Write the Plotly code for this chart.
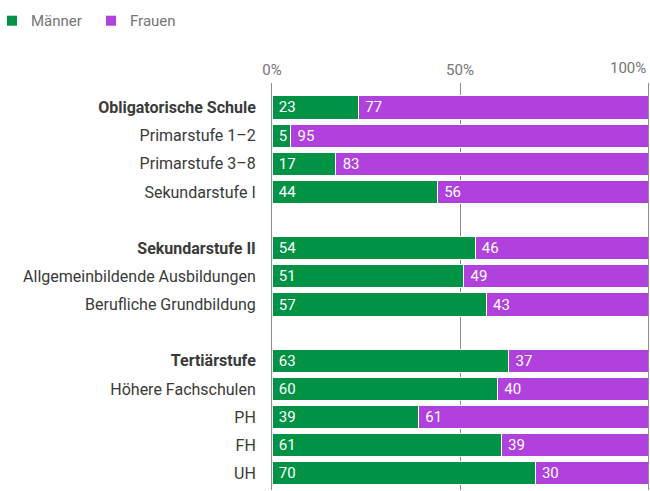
import plotly.graph_objects as go

# rows of the chart, "" = empty spacer row between the groups
categories = [
    "Obligatorische Schule", "Primarstufe 1–2", "Primarstufe 3–8", "Sekundarstufe I", "",
    "Sekundarstufe II", "Allgemeinbildende Ausbildungen", "Berufliche Grundbildung", "",
    "Tertiärstufe", "Höhere Fachschulen", "PH", "FH", "UH",
]
group_headers = ["Obligatorische Schule", "Sekundarstufe II", "Tertiärstufe"]

maenner = [23, 5, 17, 44, None, 54, 51, 57, None, 63, 60, 39, 61, 70]
frauen = [77, 95, 83, 56, None, 46, 49, 43, None, 37, 40, 61, 39, 30]

x_ticks = [0, 50, 100]
x_ticktext = ["0%", "50%", "100%"]

GREEN = "#009245"
PURPLE = "#b041dd"
GRID = "#8c8c8c"
FONT = "Roboto, Arial, sans-serif"

W, H = 650, 491
ML, MR, MT, MB = 272, 2, 83, 1
PW, PH = W - ML - MR, H - MT - MB


def px_x(px):
    # figure pixel -> paper x
    return (px - ML) / PW


def px_y(py):
    # figure pixel (from top) -> paper y
    return (H - MB - py) / PH


rows = list(range(len(categories)))
ticktext = [f"<b>{c}</b>" if c in group_headers else c for c in categories]

series = [("Männer", maenner, GREEN), ("Frauen", frauen, PURPLE)]

fig = go.Figure()
for name, vals, color in series:
    fig.add_trace(go.Bar(
        y=rows, x=vals, name=name, orientation="h",
        marker=dict(color=color, line=dict(color="white", width=1)),
        text=[f" {v}" if v is not None else "" for v in vals],
        textposition="inside", insidetextanchor="start",
        textfont=dict(color="white", size=15, family=FONT),
        constraintext="none",
        hoverinfo="skip", showlegend=False,
    ))

fig.update_layout(
    width=W, height=H,
    barmode="stack", bargap=0.18,
    margin=dict(l=ML, r=MR, t=MT, b=MB),
    paper_bgcolor="white", plot_bgcolor="white",
    font=dict(family=FONT, size=15, color="#3a3a3a"),
    uniformtext=dict(minsize=8, mode="show"),
)

fig.update_xaxes(
    side="top", range=[0, 100], tickvals=x_ticks, ticktext=x_ticktext[:2] + [""],
    showgrid=True, gridcolor=GRID, gridwidth=1, zeroline=False,
    showline=False, ticks="", tickfont=dict(size=15, color="#757575"),
    ticklabelstandoff=4, fixedrange=True, automargin=False,
)
fig.update_yaxes(
    range=[13.59, -0.87], tickvals=rows, ticktext=ticktext,
    showgrid=False, zeroline=False, ticks="",
    showline=True, linecolor=GRID, linewidth=1, mirror=True,
    tickfont=dict(size=16, color="#3a3a3a"), ticklabelstandoff=12,
    fixedrange=True, automargin=False,
)

# last tick label sits flush with the right edge
fig.add_annotation(
    x=x_ticks[-1], y=1, xref="x", yref="paper", text=x_ticktext[-1],
    showarrow=False, xanchor="right", yanchor="bottom", yshift=4,
    font=dict(size=15, color="#757575"),
)

# legend at the very top left (square swatch + label)
legend_left = [7, 106]
for (name, _, color), lx in zip(series, legend_left):
    fig.add_shape(
        type="rect", xref="paper", yref="paper",
        x0=px_x(lx), x1=px_x(lx + 10), y0=px_y(25.7), y1=px_y(15.7),
        fillcolor=color, line=dict(width=0),
    )
    fig.add_annotation(
        x=px_x(lx + 22), y=px_y(21), xref="paper", yref="paper", text=name,
        showarrow=False, xanchor="left", yanchor="middle",
        font=dict(size=15, color="#757575"),
    )

fig.write_html(
    "out.html",
    config={"displayModeBar": False},
    post_script="document.body.style.margin='0';",
)
